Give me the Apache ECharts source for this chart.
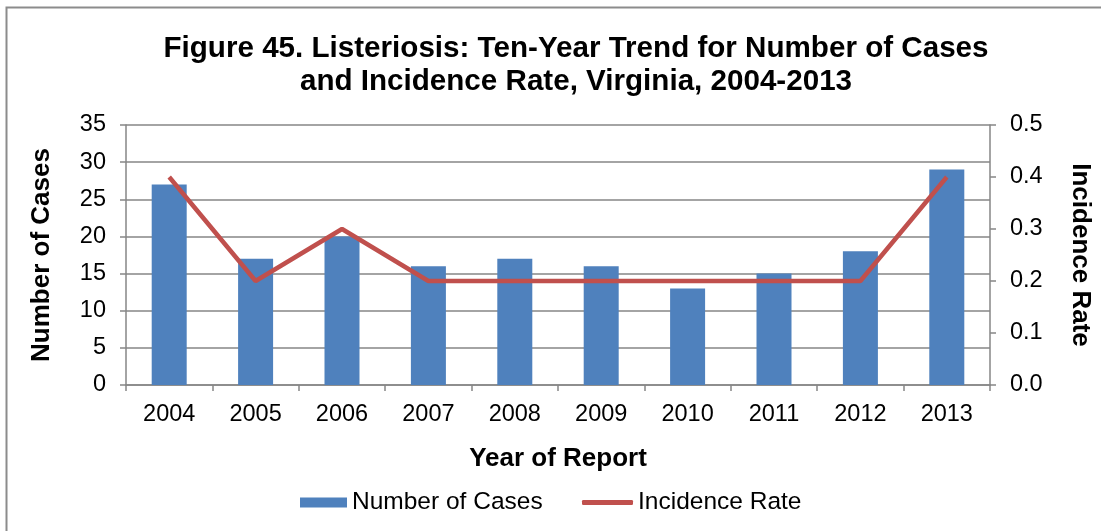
<!DOCTYPE html>
<html><head><meta charset="utf-8">
<script src="https://cdn.jsdelivr.net/npm/echarts@6/dist/echarts.min.js"></script>
<style>html,body{margin:0;padding:0;background:#fff}#c{width:1101px;height:531px}</style>
</head><body><div id="c"></div>
<script>
const years = ['2004','2005','2006','2007','2008','2009','2010','2011','2012','2013'];
const cases = [27,17,20,16,17,16,13,15,18,29];
const rates = [0.4,0.2,0.3,0.2,0.2,0.2,0.2,0.2,0.2,0.4];
const FONT = '"Liberation Sans", Arial, sans-serif';
const chart = echarts.init(document.getElementById('c'), null, {renderer:'canvas'});
chart.setOption({
  animation:false,
  backgroundColor:'#fff',
  graphic:[{type:'rect',shape:{x:6.5,y:7.5,width:1300,height:700},style:{fill:'none',stroke:'#8c8c8c',lineWidth:2},silent:true}],
  title:{text:'Figure 45. Listeriosis: Ten-Year Trend for Number of Cases\nand Incidence Rate, Virginia, 2004-2013',
    left:571, top:27, textAlign:'center',
    textStyle:{fontFamily:FONT,fontSize:29.6,fontWeight:'bold',color:'#000',lineHeight:33}},
  grid:{left:126,right:110,top:125,bottom:146,containLabel:false},
  legend:[
    {data:[{name:'Number of Cases',icon:'rect'}],left:300,top:490,padding:0,itemWidth:47,itemHeight:10,itemGap:0,
      textStyle:{fontFamily:FONT,fontSize:24.5,color:'#000'}},
    {data:[{name:'Incidence Rate',icon:'roundRect'}],left:582,top:490,padding:0,itemWidth:51,itemHeight:5,itemGap:0,
      textStyle:{fontFamily:FONT,fontSize:24.5,color:'#000'}}
  ],
  xAxis:{type:'category',data:years,boundaryGap:true,
    name:'Year of Report',nameLocation:'middle',nameGap:61,
    nameTextStyle:{fontFamily:FONT,fontSize:26,fontWeight:'bold',color:'#000'},
    axisLine:{lineStyle:{color:'#868686',width:1.5}},
    axisTick:{show:true,alignWithLabel:false,length:6,lineStyle:{color:'#868686',width:1.5}},
    axisLabel:{fontFamily:FONT,fontSize:23.5,color:'#000',margin:18}},
  yAxis:[
    {type:'value',min:0,max:35,interval:5,
     name:'Number of Cases',nameLocation:'middle',nameGap:71,nameRotate:90,
     nameTextStyle:{fontFamily:FONT,fontSize:26,fontWeight:'bold',color:'#000'},
     axisLine:{show:true,lineStyle:{color:'#868686',width:1.5}},
     axisTick:{show:true,length:6,lineStyle:{color:'#868686',width:1.5}},
     axisLabel:{fontFamily:FONT,fontSize:23.5,color:'#000',margin:20},
     splitLine:{show:true,lineStyle:{color:'#868686',width:1.5}}},
    {type:'value',min:0,max:0.5,interval:0.1,position:'right',
     name:'Incidence Rate',nameLocation:'middle',nameGap:77,nameRotate:-90,
     nameTextStyle:{fontFamily:FONT,fontSize:26,fontWeight:'bold',color:'#000'},
     axisLine:{show:true,lineStyle:{color:'#868686',width:1.5}},
     axisTick:{show:true,length:6,lineStyle:{color:'#868686',width:1.5}},
     axisLabel:{fontFamily:FONT,fontSize:23.5,color:'#000',margin:20,formatter:v=>v.toFixed(1)},
     splitLine:{show:false}}
  ],
  series:[
    {name:'Number of Cases',type:'bar',data:cases,barWidth:35,yAxisIndex:0,
     itemStyle:{color:'#4F81BD'}},
    {name:'Incidence Rate',type:'line',data:rates,yAxisIndex:1,symbol:'none',
     lineStyle:{color:'#C0504D',width:4.5},itemStyle:{color:'#C0504D'}}
  ]
});
</script></body></html>
